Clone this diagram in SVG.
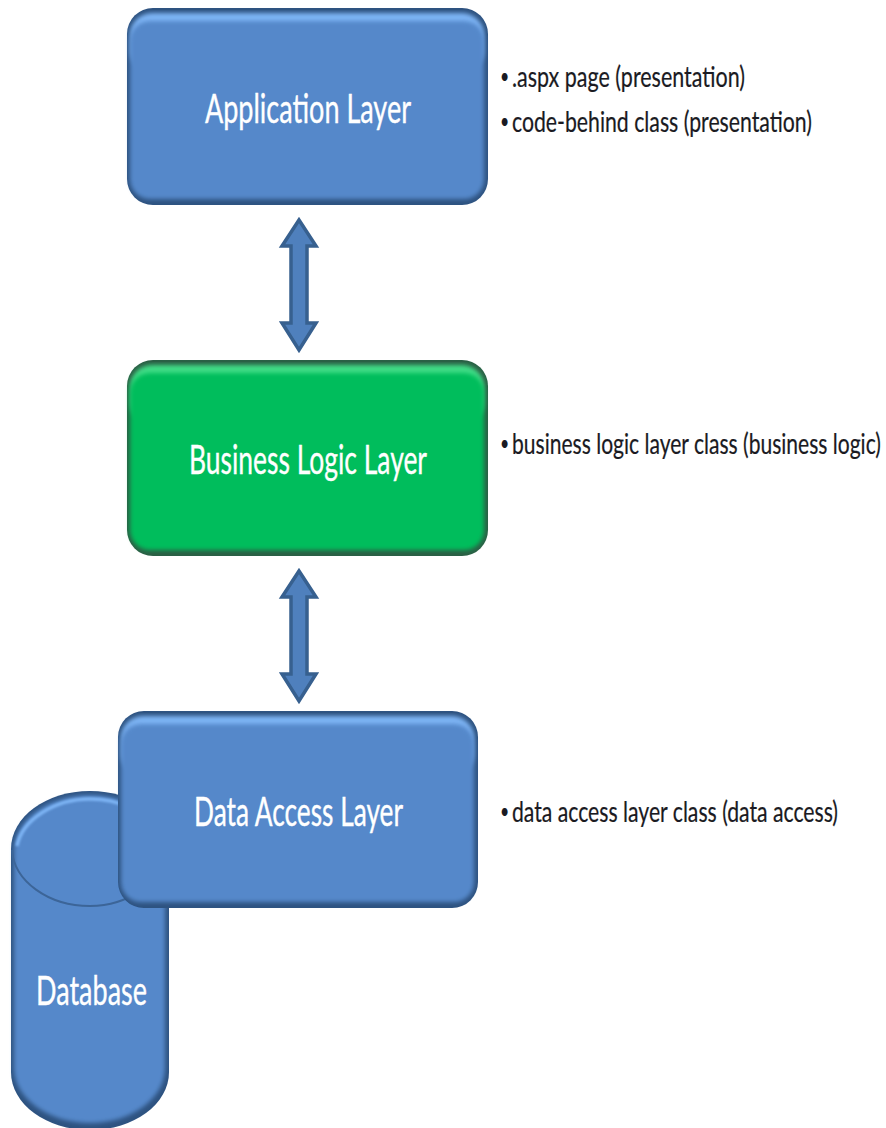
<svg xmlns="http://www.w3.org/2000/svg" width="886" height="1128" viewBox="0 0 886 1128">
<style>
text{font-family:Lato,"Liberation Sans",sans-serif}
.lab{fill:#fff;font-size:27px;stroke:#fff;stroke-width:.25px}
.side{fill:#1a1a22;font-size:20px;stroke:#1a1a22;stroke-width:.15px}
.dot{fill:#1a1a22;font-size:16px}
.edge{fill:#2d5281}
.edgeg{fill:#2a6045}
.hi{fill:#7db4f4}
.hig{fill:#3fdc86}
.main{fill:#5588ca}
.maing{fill:#05bd5b}
.arrow{fill:#4f80bd;stroke:#37608f;stroke-width:3.5;stroke-linejoin:miter}
</style>
<defs>
<filter id="b1" x="-5%" y="-5%" width="110%" height="110%"><feGaussianBlur stdDeviation="0.7"/></filter>
<filter id="b2" x="-5%" y="-5%" width="110%" height="110%"><feGaussianBlur stdDeviation="2.2"/></filter>
<filter id="b3" x="-20%" y="-50%" width="140%" height="200%"><feGaussianBlur stdDeviation="1.3"/></filter>
</defs>
<rect width="886" height="1128" fill="#fff"/>

<g id="connectors">
<path class="arrow" d="M299 220L316 246H307V323H316L299 350L282 323H291V246H282Z"/>
<path class="arrow" d="M299 571L316 597H307V674H316L299 701L282 674H291V597H282Z"/>
</g>

<g id="database">
<path class="edge" filter="url(#b1)" d="M11 849C11 817 46 791 90 791C134 791 169 817 169 849V1072C169 1104 134 1130 90 1130C46 1130 11 1104 11 1072Z"/>
<path class="main" filter="url(#b2)" d="M14 850C14 820 48 795 90 795C132 795 165 820 165 850V1068C165 1098 132 1123 90 1123C48 1123 14 1098 14 1068Z"/>
<path d="M17 846C22 820 54 799 90 799C104 799 118 802 128 807" fill="none" stroke="#7db4f4" stroke-width="3.5" filter="url(#b3)"/>
<path d="M12 850C14 881 48 906 90 906C128 906 164 881 168 850" fill="none" stroke="#3c6598" stroke-width="2"/>
<text class="lab" transform="translate(36 1005) scale(1 1.5)" textLength="111" lengthAdjust="spacingAndGlyphs">Database</text>
</g>

<g id="application-layer">
<rect class="edge" filter="url(#b1)" x="127" y="8" width="361" height="197" rx="26"/>
<rect class="hi" filter="url(#b2)" x="130" y="13" width="354" height="60" rx="22"/>
<rect class="main" filter="url(#b2)" x="130" y="21" width="354" height="178" rx="20"/>
<text class="lab" transform="translate(205 123) scale(1 1.5)" textLength="206" lengthAdjust="spacingAndGlyphs">Application Layer</text>
</g>

<g id="business-logic-layer">
<rect class="edgeg" filter="url(#b1)" x="127" y="360" width="361" height="196" rx="26"/>
<rect class="hig" filter="url(#b2)" x="130" y="365" width="354" height="60" rx="22"/>
<rect class="maing" filter="url(#b2)" x="130" y="373" width="354" height="177" rx="20"/>
<text class="lab" transform="translate(189 474) scale(1 1.5)" textLength="238" lengthAdjust="spacingAndGlyphs">Business Logic Layer</text>
</g>

<g id="data-access-layer">
<rect class="edge" filter="url(#b1)" x="118" y="711" width="360" height="197" rx="26"/>
<rect class="hi" filter="url(#b2)" x="121" y="716" width="353" height="60" rx="22"/>
<rect class="main" filter="url(#b2)" x="121" y="724" width="353" height="178" rx="20"/>
<text class="lab" transform="translate(194 826) scale(1 1.5)" textLength="209" lengthAdjust="spacingAndGlyphs">Data Access Layer</text>
</g>

<g id="notes">
<text class="dot" transform="translate(500 84) scale(1 1.3)">•</text>
<text class="side" transform="translate(512 87) scale(1 1.43)" textLength="233" lengthAdjust="spacingAndGlyphs">.aspx page (presentation)</text>
<text class="dot" transform="translate(500 129) scale(1 1.3)">•</text>
<text class="side" transform="translate(512 132) scale(1 1.43)" textLength="300" lengthAdjust="spacingAndGlyphs">code-behind class (presentation)</text>
<text class="dot" transform="translate(500 451) scale(1 1.3)">•</text>
<text class="side" transform="translate(512 454) scale(1 1.43)" textLength="369" lengthAdjust="spacingAndGlyphs">business logic layer class (business logic)</text>
<text class="dot" transform="translate(500 819) scale(1 1.3)">•</text>
<text class="side" transform="translate(512 822) scale(1 1.43)" textLength="326" lengthAdjust="spacingAndGlyphs">data access layer class (data access)</text>
</g>
</svg>
